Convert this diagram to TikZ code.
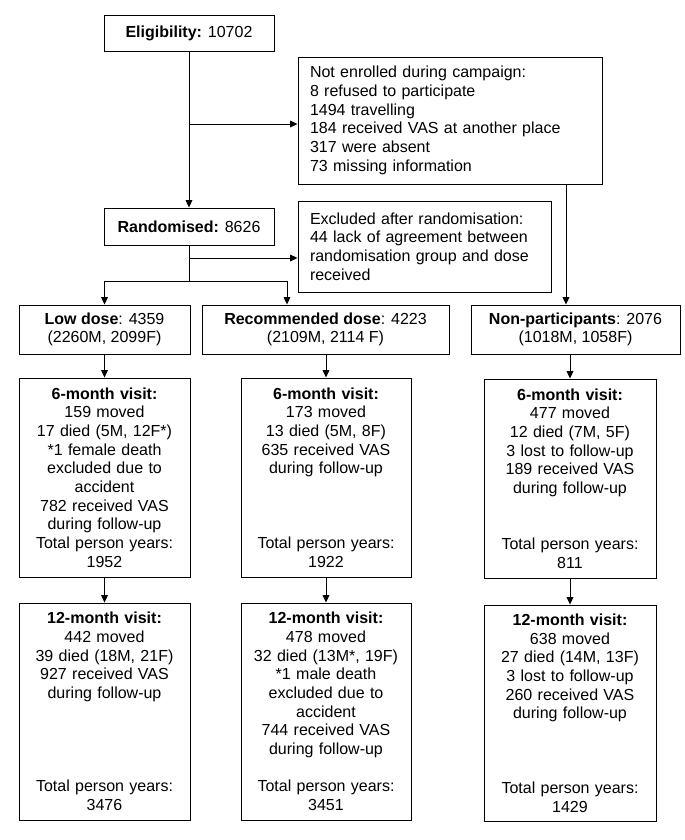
\documentclass[tikz,border=0pt]{standalone}
\usepackage{fontspec}
\setmainfont{Liberation Sans}
\usetikzlibrary{arrows.meta}
\begin{document}
\begin{tikzpicture}[x=0.75pt,y=-0.75pt,
  box/.style={draw,line width=0.7pt,inner sep=0pt,align=center,
    font=\fontsize{12pt}{14pt}\selectfont},
  lbox/.style={draw,line width=0.7pt,inner xsep=9pt,inner ysep=0pt,align=left,
    font=\fontsize{12pt}{14pt}\selectfont},
  conn/.style={line width=0.7pt},
  arr/.style={line width=0.7pt,-{Triangle[length=5.5pt,width=5pt]}}]
\useasboundingbox[fill=white] (0,0) rectangle (685,840);

\node[box,minimum width=127.5pt,minimum height=27pt] (elig) at (189,33)
  {\textbf{Eligibility:} 10702};
\node[lbox,text width=210pt,minimum height=95.25pt] (notenr) at (450,120.5)
  {Not enrolled during campaign:\\8 refused to participate\\1494 travelling\\184 received VAS at another place\\317 were absent\\73 missing information};
\node[box,minimum width=127.5pt,minimum height=27.75pt] (rand) at (189,226.5)
  {\textbf{Randomised:} 8626};
\node[lbox,text width=171.75pt,minimum height=68.25pt] (excl) at (424.5,246.5)
  {Excluded after randomisation:\\44 lack of agreement between\\randomisation group and dose\\received};

\node[box,minimum width=128.25pt,minimum height=36.75pt] (low) at (104.5,329.5)
  {\textbf{Low dose}: 4359\\(2260M, 2099F)};
\node[box,minimum width=185.25pt,minimum height=36.75pt] (rec) at (325.5,329.5)
  {\textbf{Recommended dose}: 4223\\(2109M, 2114 F)};
\node[box,minimum width=156.75pt,minimum height=36.75pt] (non) at (575.5,329.5)
  {\textbf{Non-participants}: 2076\\(1018M, 1058F)};

\node[box,text width=126pt,minimum width=128.25pt,minimum height=149.25pt] (sixlow) at (104.5,477.5)
  {\textbf{6-month visit:}\\159 moved\\17 died (5M, 12F*)\\{*}1 female death\\excluded due to\\accident\\782 received VAS\\during follow-up\\Total person years:\\1952};
\node[box,text width=126pt,minimum width=127.5pt,minimum height=149.25pt] (sixrec) at (326,477.5)
  {\textbf{6-month visit:}\\173 moved\\13 died (5M, 8F)\\635 received VAS\\during follow-up\\~\\~\\~\\Total person years:\\1922};
\node[box,text width=126pt,minimum width=129pt,minimum height=149.25pt] (sixnon) at (570,478.5)
  {\textbf{6-month visit:}\\477 moved\\12 died (7M, 5F)\\3 lost to follow-up\\189 received VAS\\during follow-up\\~\\~\\Total person years:\\811};

\node[box,text width=126pt,minimum width=128.25pt,minimum height=162.75pt] (twlow) at (104.5,711.5)
  {\textbf{12-month visit:}\\442 moved\\39 died (18M, 21F)\\927 received VAS\\during follow-up\\~\\~\\~\\~\\Total person years:\\3476};
\node[box,text width=126pt,minimum width=127.5pt,minimum height=162.75pt] (twrec) at (326,711.5)
  {\textbf{12-month visit:}\\478 moved\\32 died (13M*, 19F)\\{*}1 male death\\excluded due to\\accident\\744 received VAS\\during follow-up\\~\\Total person years:\\3451};
\node[box,text width=126pt,minimum width=129pt,minimum height=162pt] (twnon) at (570,713)
  {\textbf{12-month visit:}\\638 moved\\27 died (14M, 13F)\\3 lost to follow-up\\260 received VAS\\during follow-up\\~\\~\\~\\Total person years:\\1429};

% connectors
\coordinate (j1) at (189,124);
\coordinate (j2) at (189,258);
\coordinate (br) at (189,281);
\coordinate (brL) at (104.5,281);
\coordinate (brR) at (287,281);
\coordinate (nx) at (566,0);

\draw[arr] (elig.south) -- (rand.north);
\draw[arr] (j1) -- (j1 -| notenr.west);
\draw[conn] (rand.south) -- (br);
\draw[arr] (j2) -- (j2 -| excl.west);
\draw[conn] (brL) -- (brR);
\draw[arr] (brL) -- (low.north);
\draw[arr] (brR) -- (brR |- rec.north);
\draw[arr] (nx |- notenr.south) -- (nx |- non.north);

\draw[arr] (low.south) -- (sixlow.north);
\draw[arr] (sixrec.north |- rec.south) -- (sixrec.north);
\draw[arr] (sixnon.north |- non.south) -- (sixnon.north);
\draw[arr] (sixlow.south) -- (twlow.north);
\draw[arr] (sixrec.south) -- (twrec.north);
\draw[arr] (sixnon.south) -- (twnon.north);
\end{tikzpicture}
\end{document}
